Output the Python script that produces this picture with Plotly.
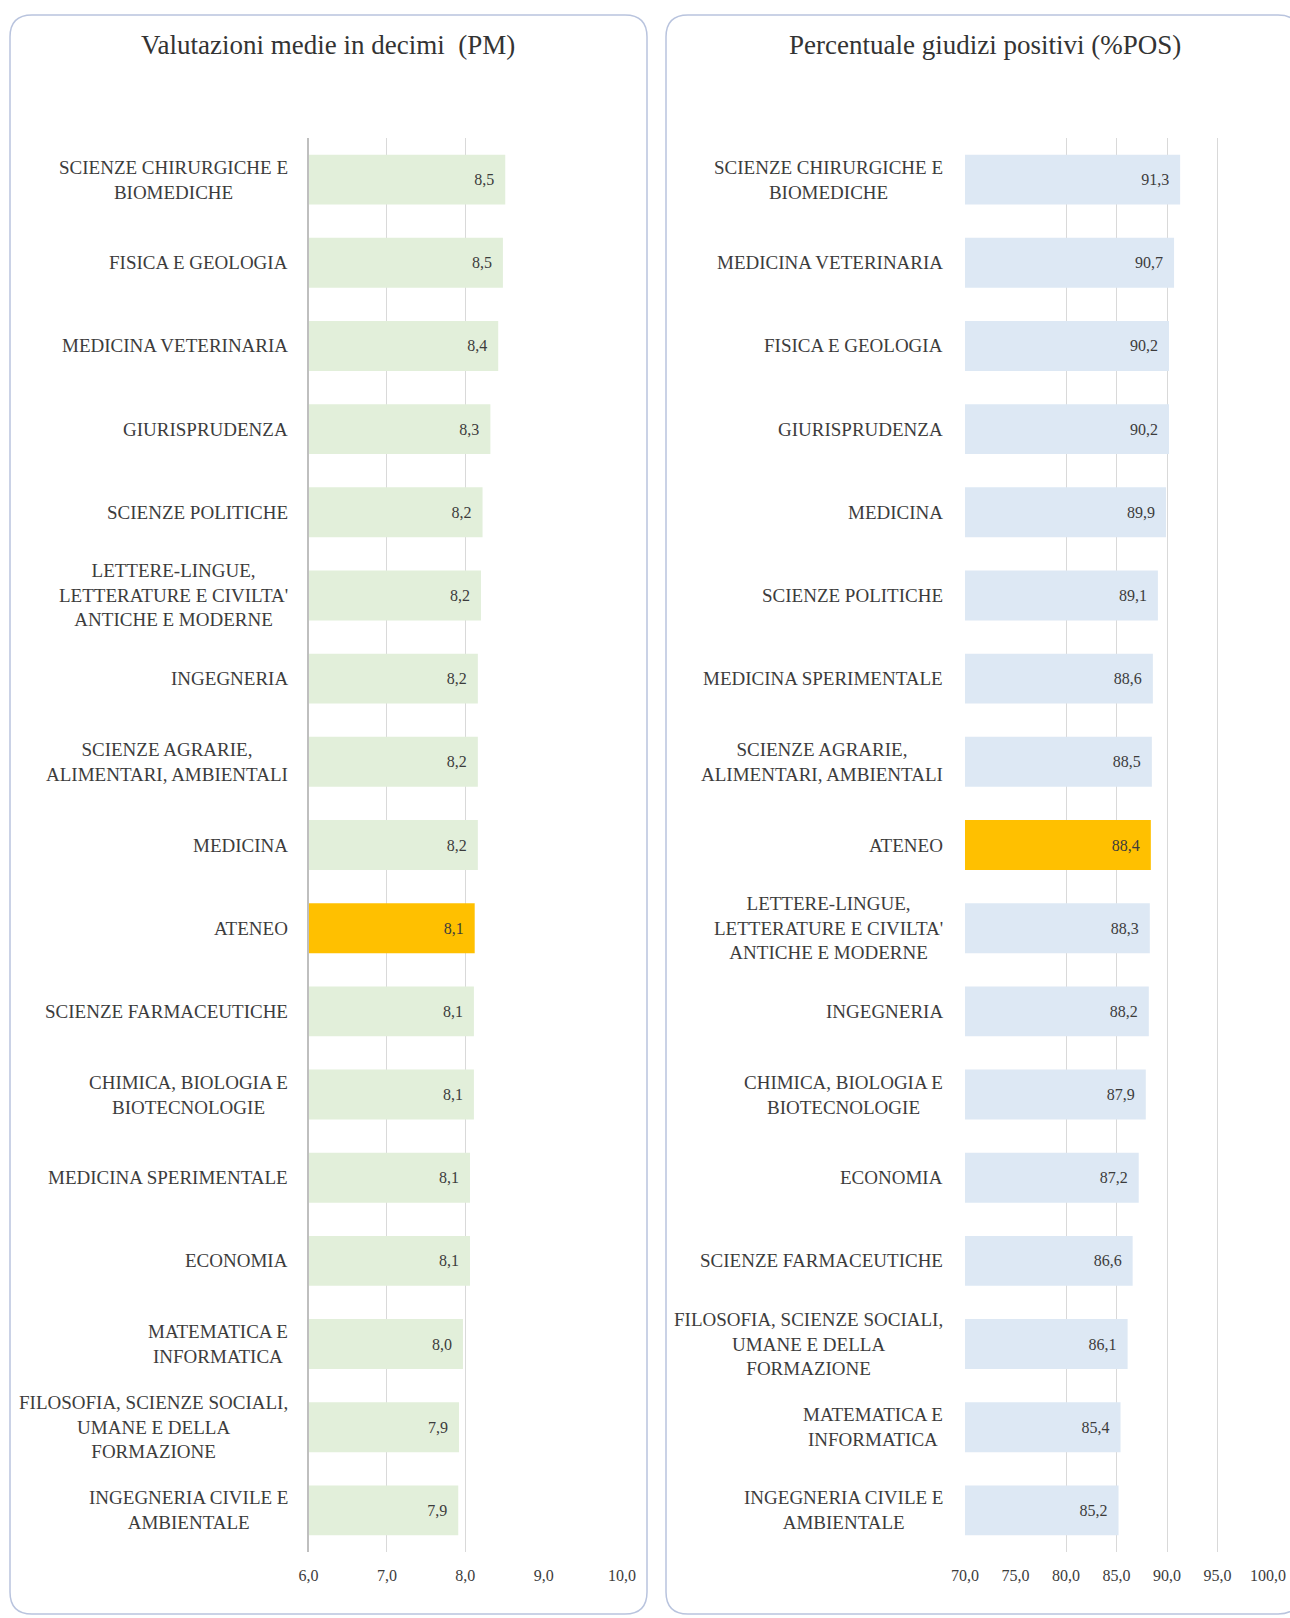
import plotly.graph_objects as go

W, H = 1290, 1618

# ---------------- data ----------------
pm_categories = [
    "SCIENZE CHIRURGICHE E<br>BIOMEDICHE",
    "FISICA E GEOLOGIA",
    "MEDICINA VETERINARIA",
    "GIURISPRUDENZA",
    "SCIENZE POLITICHE",
    "LETTERE-LINGUE,<br>LETTERATURE E CIVILTA'<br>ANTICHE E MODERNE",
    "INGEGNERIA",
    "SCIENZE AGRARIE,<br>ALIMENTARI, AMBIENTALI",
    "MEDICINA",
    "ATENEO",
    "SCIENZE FARMACEUTICHE",
    "CHIMICA, BIOLOGIA E<br>BIOTECNOLOGIE",
    "MEDICINA SPERIMENTALE",
    "ECONOMIA",
    "MATEMATICA E<br>INFORMATICA",
    "FILOSOFIA, SCIENZE SOCIALI,<br>UMANE E DELLA<br>FORMAZIONE",
    "INGEGNERIA CIVILE E<br>AMBIENTALE",
]
pm_values = [8.51, 8.48, 8.42, 8.32, 8.22, 8.20, 8.16, 8.16, 8.16, 8.12,
             8.11, 8.11, 8.06, 8.06, 7.97, 7.92, 7.91]

pos_categories = [
    "SCIENZE CHIRURGICHE E<br>BIOMEDICHE",
    "MEDICINA VETERINARIA",
    "FISICA E GEOLOGIA",
    "GIURISPRUDENZA",
    "MEDICINA",
    "SCIENZE POLITICHE",
    "MEDICINA SPERIMENTALE",
    "SCIENZE AGRARIE,<br>ALIMENTARI, AMBIENTALI",
    "ATENEO",
    "LETTERE-LINGUE,<br>LETTERATURE E CIVILTA'<br>ANTICHE E MODERNE",
    "INGEGNERIA",
    "CHIMICA, BIOLOGIA E<br>BIOTECNOLOGIE",
    "ECONOMIA",
    "SCIENZE FARMACEUTICHE",
    "FILOSOFIA, SCIENZE SOCIALI,<br>UMANE E DELLA<br>FORMAZIONE",
    "MATEMATICA E<br>INFORMATICA",
    "INGEGNERIA CIVILE E<br>AMBIENTALE",
]
pos_values = [91.3, 90.7, 90.2, 90.2, 89.9, 89.1, 88.6, 88.5, 88.4, 88.3,
              88.2, 87.9, 87.2, 86.6, 86.1, 85.4, 85.2]

pm_ticks = [6, 7, 8, 9, 10]
pm_ticktext = ["6,0", "7,0", "8,0", "9,0", "10,0"]
pos_ticks = [70, 75, 80, 85, 90, 95, 100]
pos_ticktext = ["70,0", "75,0", "80,0", "85,0", "90,0", "95,0", "100,0"]

highlight = "ATENEO"
title_pm = "Valutazioni medie in decimi  (PM)"
title_pos = "Percentuale giudizi positivi (%POS)"

# ---------------- style ----------------
FONT = "Liberation Serif"
TXT = "#3c3c3c"
GREEN = "#e2efda"
BLUE = "#dde8f4"
GOLD = "#ffc000"
NB = "\u00a0\u00a0"


def fmt(v):
    return f"{v:.1f}".replace(".", ",") + NB


def px_x(p):
    return p / W


def px_y(p):
    return 1 - p / H


fig = go.Figure()

fig.add_trace(go.Bar(
    x=pm_values, y=pm_categories, orientation="h",
    marker=dict(color=[GOLD if c == highlight else GREEN for c in pm_categories], line=dict(width=0)),
    text=[fmt(v) for v in pm_values], textposition="inside", insidetextanchor="end",
    textfont=dict(family=FONT, size=16, color=TXT), constraintext="none",
    xaxis="x", yaxis="y", showlegend=False, hoverinfo="x+y",
))
fig.add_trace(go.Bar(
    x=pos_values, y=pos_categories, orientation="h",
    marker=dict(color=[GOLD if c == highlight else BLUE for c in pos_categories], line=dict(width=0)),
    text=[fmt(v) for v in pos_values], textposition="inside", insidetextanchor="end",
    textfont=dict(family=FONT, size=16, color=TXT), constraintext="none",
    xaxis="x2", yaxis="y2", showlegend=False, hoverinfo="x+y",
))

ydom = [px_y(1552), px_y(138)]

fig.update_layout(
    width=W, height=H, autosize=False,
    margin=dict(l=0, r=0, t=0, b=0, pad=0, autoexpand=False),
    paper_bgcolor="white", plot_bgcolor="white",
    bargap=0.4,
    font=dict(family=FONT, color=TXT),
    xaxis=dict(
        domain=[px_x(308.6), px_x(622)], range=[6, 10], anchor="y",
        tickmode="array", tickvals=pm_ticks, ticktext=pm_ticktext,
        showgrid=False, zeroline=False, showline=False, ticks="",
        ticklabelstandoff=12, automargin=False,
        tickfont=dict(family=FONT, size=16, color=TXT),
        minor=dict(tickmode="array", tickvals=[7, 8, 10], showgrid=True,
                   gridcolor="#d9d9d9", gridwidth=1, ticks=""),
    ),
    yaxis=dict(
        domain=ydom, anchor="x", type="category", autorange="reversed",
        showticklabels=False, showgrid=False, zeroline=False, automargin=False,
        showline=True, linecolor="#bfbfbf", linewidth=2, ticks="",
    ),
    xaxis2=dict(
        domain=[px_x(965), px_x(1268)], range=[70, 100], anchor="y2",
        tickmode="array", tickvals=pos_ticks, ticktext=pos_ticktext,
        showgrid=False, zeroline=False, showline=False, ticks="",
        ticklabelstandoff=12, automargin=False,
        tickfont=dict(family=FONT, size=16, color=TXT),
        minor=dict(tickmode="array", tickvals=[80, 85, 90, 95], showgrid=True,
                   gridcolor="#d9d9d9", gridwidth=1, ticks=""),
    ),
    yaxis2=dict(
        domain=ydom, anchor="x2", type="category", autorange="reversed",
        showticklabels=False, showgrid=False, zeroline=False, showline=False,
        ticks="", automargin=False,
    ),
)

# category labels (centered multi-line, right-anchored)
for c in pm_categories:
    fig.add_annotation(x=px_x(290), xref="paper", y=c, yref="y", text=c,
                       showarrow=False, xanchor="right", yanchor="middle", align="center",
                       font=dict(family=FONT, size=19, color=TXT))
for c in pos_categories:
    fig.add_annotation(x=px_x(945), xref="paper", y=c, yref="y2", text=c,
                       showarrow=False, xanchor="right", yanchor="middle", align="center",
                       font=dict(family=FONT, size=19, color=TXT))

# titles
fig.add_annotation(x=px_x(328), y=px_y(45), xref="paper", yref="paper", text=title_pm,
                   showarrow=False, xanchor="center", yanchor="middle",
                   font=dict(family=FONT, size=27, color="#333333"))
fig.add_annotation(x=px_x(985), y=px_y(45), xref="paper", yref="paper", text=title_pos,
                   showarrow=False, xanchor="center", yanchor="middle",
                   font=dict(family=FONT, size=27, color="#333333"))


# rounded panel borders
def rounded_rect(x0, y0, x1, y1, r):
    X0, X1 = px_x(x0), px_x(x1)
    Y0, Y1 = px_y(y0), px_y(y1)  # Y0 top, Y1 bottom
    rx, ry = r / W, r / H
    return (f"M {X0+rx},{Y0} L {X1-rx},{Y0} Q {X1},{Y0} {X1},{Y0-ry} "
            f"L {X1},{Y1+ry} Q {X1},{Y1} {X1-rx},{Y1} "
            f"L {X0+rx},{Y1} Q {X0},{Y1} {X0},{Y1+ry} "
            f"L {X0},{Y0-ry} Q {X0},{Y0} {X0+rx},{Y0} Z")


for (a, b, c, d) in [(10, 15, 647, 1614), (666, 15, 1300, 1614)]:
    fig.add_shape(type="path", xref="paper", yref="paper",
                  path=rounded_rect(a, b, c, d, 22),
                  line=dict(color="#b9c4de", width=1.5), fillcolor="rgba(0,0,0,0)",
                  layer="below")

fig.write_html(
    "out.html",
    config={"responsive": False, "displayModeBar": False},
    post_script="document.body.style.margin='0';document.body.style.overflow='hidden';",
)
